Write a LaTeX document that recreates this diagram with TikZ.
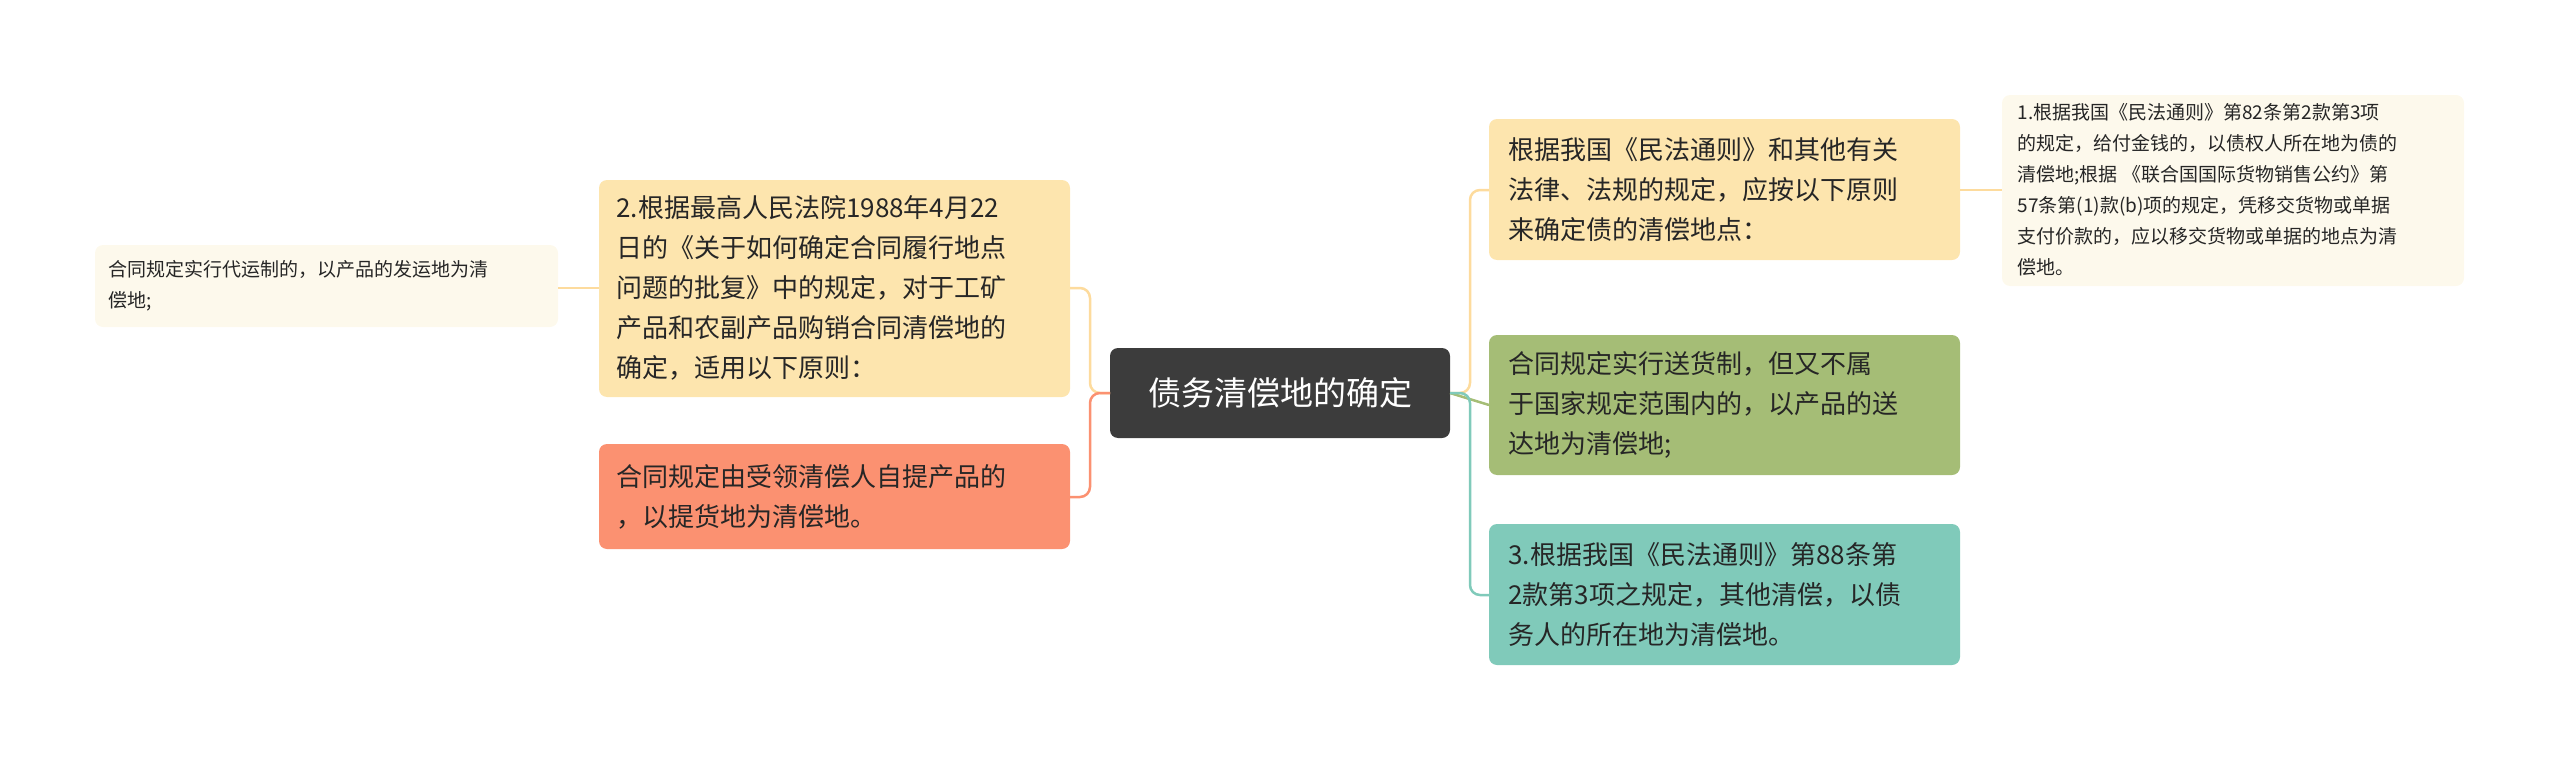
\documentclass[tikz,border=0pt]{standalone}
\usepackage{fontspec}
\setmainfont{Noto Sans CJK SC}
\begin{document}
\begin{tikzpicture}[x=1pt,y=-1pt,
  box/.style={rounded corners=7pt,inner sep=0pt,anchor=north west},
  txt/.style={align=left,anchor=west,font=\fontsize{26}{40}\selectfont,text=black!85},
  stxt/.style={align=left,anchor=west,font=\fontsize{19}{31}\selectfont,text=black!85},
  conn/.style={line width=2.5pt,rounded corners=10pt}]
\useasboundingbox (0,0) rectangle (2560,760);
\definecolor{cyel}{HTML}{FDE5AE}
\definecolor{cpale}{HTML}{FDF9EC}
\definecolor{cred}{HTML}{FB9171}
\definecolor{cgrn}{HTML}{A5BD76}
\definecolor{cteal}{HTML}{80CABA}
\definecolor{croot}{HTML}{3C3C3C}
% boxes
\fill[cyel,rounded corners=8pt] (599,180) rectangle (1070,397); \coordinate (b2w) at (599,288); \coordinate (b2e) at (1070,288);
\fill[cpale,rounded corners=8pt] (95,245) rectangle (558,327); \coordinate (fle) at (558,288);
\fill[cred,rounded corners=8pt] (599,444) rectangle (1070,549); \coordinate (rde) at (1070,497);
\fill[croot,rounded corners=8pt] (1110,348) rectangle (1450,438); \coordinate (rw) at (1110,393); \coordinate (re) at (1450,393);
\fill[cyel,rounded corners=8pt] (1489,119) rectangle (1960,260); \coordinate (r1w) at (1489,190); \coordinate (r1e) at (1960,190);
\fill[cpale,rounded corners=8pt] (2002,95) rectangle (2464,286); \coordinate (frw) at (2002,190);
\fill[cgrn,rounded corners=8pt] (1489,335) rectangle (1960,475); \coordinate (gw) at (1489,405);
\fill[cteal,rounded corners=8pt] (1489,524) rectangle (1960,665); \coordinate (tw) at (1489,595);
% connectors
\draw[conn,draw=cyel!90!orange] (rw) -- ++(-20,0) |- (b2e);
\draw[conn,draw=cred] (rw) -- ++(-20,0) |- (rde);
\draw[conn,draw=cyel!90!orange] (b2w) -- (fle);
\draw[conn,draw=cyel!90!orange] (re) -- ++(20,0) |- (r1w);
\draw[conn,draw=cgrn] (re) -- (gw);
\draw[conn,draw=cteal] (re) -- ++(20,0) |- (tw);
\draw[conn,draw=cyel!90!orange] (r1e) -- (frw);
% texts
\node[txt] (t2) at (613,288) {2.根据最高人民法院1988年4月22\\日的《关于如何确定合同履行地点\\问题的批复》中的规定，对于工矿\\产品和农副产品购销合同清偿地的\\确定，适用以下原则：};
\node[stxt] (tfl) at (105,286) {合同规定实行代运制的，以产品的发运地为清\\偿地;};
\node[txt] (tr) at (613,497) {合同规定由受领清偿人自提产品的\\，以提货地为清偿地。};
\node[anchor=center,text=white,font=\fontsize{33}{40}\selectfont] (troot) at (1280,393) {债务清偿地的确定};
\node[txt] (t1) at (1505,190) {根据我国《民法通则》和其他有关\\法律、法规的规定，应按以下原则\\来确定债的清偿地点：};
\node[stxt] (tfr) at (2014,190) {1.根据我国《民法通则》第82条第2款第3项\\的规定，给付金钱的，以债权人所在地为债的\\清偿地;根据 《联合国国际货物销售公约》第\\57条第(1)款(b)项的规定，凭移交货物或单据\\支付价款的，应以移交货物或单据的地点为清\\偿地。};
\node[txt] (tg) at (1505,405) {合同规定实行送货制，但又不属\\于国家规定范围内的，以产品的送\\达地为清偿地;};
\node[txt] (tt) at (1505,595) {3.根据我国《民法通则》第88条第\\2款第3项之规定，其他清偿，以债\\务人的所在地为清偿地。};
\end{tikzpicture}
\end{document}
